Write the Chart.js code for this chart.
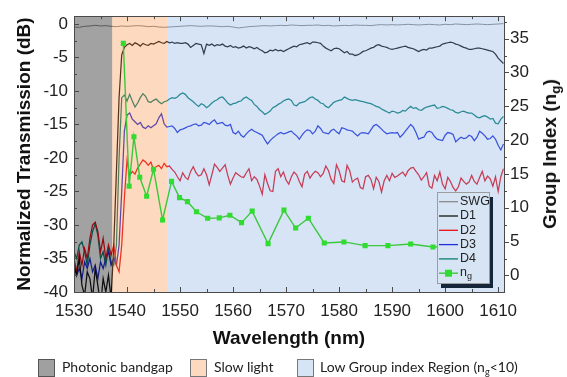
<!DOCTYPE html>
<html><head><meta charset="utf-8">
<script src="https://cdn.jsdelivr.net/npm/chart.js@4.4.1/dist/chart.umd.min.js"></script>
<style>
html,body{margin:0;padding:0;background:#fff;}
#wrap{position:relative;width:567px;height:377px;overflow:hidden;}
canvas{position:absolute;left:0;top:0;}
.rt{position:absolute;left:550px;top:154px;transform:translate(-50%,-50%) rotate(-90deg);font:bold 19px "Liberation Sans",Arial,sans-serif;white-space:nowrap;color:#111;}
.rt sub{font-size:0.72em;line-height:0;vertical-align:-0.3em;}
.lg{position:absolute;top:358px;font:14px Lato,"Open Sans",sans-serif;color:#222;white-space:nowrap;line-height:17px;}
.lg sub{font-size:0.65em;line-height:0;vertical-align:-0.3em;}
.bx{position:absolute;top:359px;width:17px;height:18px;border:1px solid #555;box-sizing:border-box;}
</style></head><body>
<div id="wrap">
<canvas id="c" width="567" height="377"></canvas>
<div class="rt">Group Index (n<sub>g</sub>)</div>
<div class="bx" style="left:38px;background:#a0a0a0;"></div>
<div class="lg" style="left:62px;">Photonic bandgap</div>
<div class="bx" style="left:190px;background:#fcd9bf;border-color:#777;"></div>
<div class="lg" style="left:214px;">Slow light</div>
<div class="bx" style="left:297px;background:#d6e4f5;border-color:#777;"></div>
<div class="lg" style="left:320px;">Low Group index Region (n<sub>g</sub>&lt;10)</div>
</div>
<script>
// ---- data ----
const wlFine = [
1530,1530.5,1531,1531.5,1532,1532.5,1533,1533.5,1534,1534.5,
1535,1535.5,1536,1536.5,1537,1537.5,1538,1538.5,1539,1539.5,
1540,1540.5,1541,1541.5,1542,1542.5,1543,1543.5,1544,1544.5,
1545,1545.5,1546,1546.5,1547,1547.5,1548,1548.5,1549,1549.5,
1550,1550.5,1551,1551.5,1552,1552.5,1553,1553.5,1554,1554.5,
1555,1555.5,1556,1556.5,1557,1557.5,1558,1558.5,1559,1559.5,
1560,1560.5,1561,1561.5,1562,1562.5,1563,1563.5,1564,1564.5,
1565,1565.5,1566,1566.5,1567,1567.5,1568,1568.5,1569,1569.5,
1570,1570.5,1571,1571.5,1572,1572.5,1573,1573.5,1574,1574.5,
1575,1575.5,1576,1576.5,1577,1577.5,1578,1578.5,1579,1579.5,
1580,1580.5,1581,1581.5,1582,1582.5,1583,1583.5,1584,1584.5,
1585,1585.5,1586,1586.5,1587,1587.5,1588,1588.5,1589,1589.5,
1590,1590.5,1591,1591.5,1592,1592.5,1593,1593.5,1594,1594.5,
1595,1595.5,1596,1596.5,1597,1597.5,1598,1598.5,1599,1599.5,
1600,1600.5,1601,1601.5,1602,1602.5,1603,1603.5,1604,1604.5,
1605,1605.5,1606,1606.5,1607,1607.5,1608,1608.5,1609,1609.5,
1610,1610.5,1611];

const wlCoarse = [
1530,1531,1532,1533,1534,1535,1536,1537,1538,1539,
1540,1541,1542,1543,1544,1545,1546,1547,1548,1549,
1550,1551,1552,1553,1554,1555,1556,1557,1558,1559,
1560,1561,1562,1563,1564,1565,1566,1567,1568,1569,
1570,1571,1572,1573,1574,1575,1576,1577,1578,1579,
1580,1581,1582,1583,1584,1585,1586,1587,1588,1589,
1590,1591,1592,1593,1594,1595,1596,1597,1598,1599,
1600,1601,1602,1603,1604,1605,1606,1607,1608,1609,
1610,1611];

const swg = [
-0.45,-0.5,-0.35,-0.3,-0.2,-0.3,-0.25,-0.35,-0.4,-0.3,
-0.35,-0.3,-0.25,-0.3,-0.4,-0.35,-0.45,-0.5,-0.45,-0.4,
-0.35,-0.3,-0.25,-0.3,-0.35,-0.3,-0.3,-0.35,-0.4,-0.35,
-0.45,-0.6,-0.5,-0.4,-0.35,-0.3,-0.25,-0.3,-0.25,-0.2,
-0.25,-0.15,-0.2,-0.25,-0.2,-0.2,-0.15,-0.25,-0.2,-0.3,
-0.25,-0.2,-0.25,-0.15,-0.2,-0.2,-0.25,-0.15,-0.1,-0.15,
-0.1,-0.15,-0.1,-0.05,-0.1,-0.15,-0.1,-0.05,-0.1,-0.15,
-0.05,-0.1,0.0,-0.05,-0.1,-0.05,0.0,-0.05,-0.1,-0.05,
0.0,0.05];

const d1 = [
-36,-37.5,-35,-39,-40.5,-37,-38,-41,-36.5,-39,
-42,-38,-40,-37.5,-41,-33,-22,-11,-4.6,-3.5,
-3.1,-2.9,-3.2,-2.8,-3.0,-3.3,-2.9,-3.1,-3.2,-2.9,
-3.0,-2.8,-2.6,-2.8,-2.9,-2.6,-2.8,-2.7,-2.9,-2.8,
-2.9,-2.9,-2.8,-3.0,-3.5,-3.2,-2.9,-3.0,-3.1,-4.4,
-3.0,-3.2,-3.0,-3.3,-3.1,-3.2,-3.0,-3.3,-3.4,-3.2,
-3.5,-3.4,-3.6,-3.5,-3.3,-3.6,-3.4,-3.5,-3.7,-3.5,
-3.8,-4.0,-4.3,-4.2,-3.9,-4.0,-3.8,-4.0,-3.9,-4.1,
-3.9,-3.7,-3.5,-3.3,-3.4,-3.1,-3.0,-2.9,-2.8,-3.0,
-2.7,-2.7,-2.8,-2.9,-3.3,-3.6,-3.8,-4.0,-3.7,-3.6,
-3.7,-4.0,-4.3,-4.1,-4.5,-4.5,-4.7,-4.6,-4.4,-4.1,
-4.0,-3.8,-3.6,-3.5,-3.2,-3.1,-3.3,-3.4,-3.5,-3.7,
-3.8,-3.7,-3.6,-3.5,-3.4,-3.3,-3.5,-3.6,-3.7,-3.9,
-4.1,-3.9,-3.8,-3.9,-3.6,-3.6,-3.5,-3.4,-3.3,-3.0,
-2.9,-2.8,-2.7,-2.8,-3.0,-3.1,-3.3,-3.5,-3.6,-3.8,
-3.8,-3.7,-3.6,-3.6,-3.7,-3.8,-3.9,-4.0,-4.1,-4.5,
-5.1,-5.5,-5.9];

const d2 = [
-35,-37,-34,-36,-33.5,-35,-32,-30,-29.6,-31,
-34,-32,-35,-33,-34.5,-33,-36,-37,-33,-26,
-20.3,-22.6,-22.0,-22.4,-21.5,-20.9,-20.3,-20.6,-21.1,-20.6,
-21.8,-21.3,-21.1,-21.6,-20.8,-21.3,-21.2,-21.7,-22.1,-22.8,
-23.4,-22.2,-22.9,-23.2,-22.0,-21.3,-22.2,-22.7,-22.5,-21.6,
-22.5,-24.0,-22.5,-20.9,-21.4,-22.0,-21.5,-21.0,-22.6,-23.9,
-23.0,-22.2,-22.5,-22.8,-22.9,-22.2,-21.6,-23.4,-22.8,-23.2,
-24.2,-25.4,-22.5,-23.8,-24.9,-25.0,-22.0,-21.6,-22.8,-22.1,
-23.3,-23.9,-22.8,-22.1,-22.5,-23.5,-24.3,-22.4,-22.0,-23.0,
-22.4,-22.0,-22.2,-22.8,-22.3,-21.2,-21.9,-23.2,-23.8,-21.0,
-21.9,-23.4,-23.6,-21.1,-21.9,-23.6,-23.2,-23.0,-24.4,-24.6,
-22.8,-22.6,-23.2,-24.6,-22.9,-23.5,-25.1,-23.4,-22.6,-23.4,
-22.3,-22.9,-22.7,-22.4,-22.1,-22.7,-21.9,-21.5,-21.4,-22.0,
-22.5,-23.3,-22.8,-22.2,-24.2,-24.5,-22.6,-23.4,-22.1,-23.9,
-24.6,-22.9,-23.5,-24.4,-24.9,-24.3,-23.0,-23.5,-23.9,-23.6,
-22.6,-23.5,-23.9,-22.9,-22.0,-23.4,-22.7,-23.1,-24.2,-22.8,
-25.0,-22.8,-21.6];

const d3 = [
-36,-37.5,-36.5,-38,-35.5,-36.5,-35,-37,-36,-38,
-35.5,-36.5,-35,-34,-36,-35,-36,-33,-25,-16,
-13.6,-13.3,-14.2,-14.6,-15.0,-14.7,-15.4,-15.6,-15.2,-15.5,
-15.2,-14.9,-14.0,-13.4,-14.9,-15.4,-15.3,-15.2,-15.6,-16.2,
-15.8,-15.7,-15.5,-15.3,-15.2,-15.0,-14.9,-15.2,-15.1,-14.7,
-14.8,-15.0,-14.6,-14.3,-14.9,-14.8,-14.7,-15.1,-15.2,-15.0,
-16.2,-16.4,-16.0,-16.6,-16.9,-16.4,-16.0,-15.7,-16.0,-16.2,
-16.4,-16.6,-17.3,-17.9,-17.4,-17.0,-16.7,-16.4,-16.2,-16.4,
-16.3,-16.1,-16.0,-16.4,-16.7,-17.2,-16.6,-16.1,-15.8,-15.9,
-16.4,-16.0,-15.2,-15.6,-16.2,-16.3,-16.4,-15.9,-15.7,-16.1,
-16.4,-15.5,-15.6,-15.8,-15.9,-16.0,-16.4,-16.7,-16.3,-16.2,
-16.3,-16.4,-15.8,-15.2,-15.0,-15.3,-15.7,-16.1,-16.4,-16.3,
-16.2,-16.3,-16.2,-16.9,-16.5,-16.0,-15.5,-15.0,-15.4,-16.2,
-17.2,-17.0,-16.9,-16.2,-16.0,-16.2,-16.8,-17.2,-17.3,-17.4,
-16.6,-16.2,-16.3,-16.5,-17.6,-17.2,-16.9,-17.1,-17.0,-16.6,
-16.8,-17.4,-16.9,-16.0,-16.3,-16.7,-17.2,-17.1,-16.7,-17.2,
-18.1,-18.8,-17.9];

const d4 = [
-34,-35,-33,-32.5,-34,-36,-33,-31,-29.8,-31.5,
-35,-34,-36,-33.5,-35.5,-36,-33,-20,-11,-10.6,
-11.5,-10.5,-11.5,-12.4,-11.8,-11.0,-10.4,-10.8,-11.6,-11.7,
-11.4,-11.2,-11.6,-11.9,-11.6,-11.5,-11.2,-11.0,-11.1,-10.9,
-10.5,-10.3,-10.5,-11.0,-11.3,-11.6,-12.0,-12.3,-11.9,-12.1,
-12.5,-12.2,-11.8,-11.5,-11.3,-11.0,-10.9,-11.3,-11.8,-12.1,
-11.9,-11.8,-11.6,-11.5,-11.1,-10.9,-11.2,-11.4,-12.0,-12.3,
-12.8,-13.1,-13.5,-13.3,-13.0,-12.5,-12.3,-12.0,-11.8,-11.5,
-11.3,-11.2,-11.4,-12.1,-12.2,-11.8,-11.7,-11.6,-11.3,-11.0,
-10.9,-11.2,-11.4,-11.8,-11.9,-12.3,-12.5,-12.1,-11.7,-11.5,
-11.4,-11.3,-10.9,-11.1,-11.3,-11.4,-11.3,-11.4,-11.5,-11.6,
-11.7,-11.8,-11.9,-12.1,-12.3,-12.4,-12.7,-12.9,-13.1,-13.3,
-13.0,-13.1,-13.3,-13.2,-12.9,-13.0,-12.6,-12.3,-12.6,-12.5,
-12.8,-12.9,-12.6,-12.4,-12.3,-12.2,-12.1,-12.6,-12.5,-12.3,
-12.4,-12.6,-12.8,-12.9,-13.2,-13.3,-13.1,-13.0,-13.2,-13.3,
-13.3,-13.6,-13.9,-14.0,-13.8,-13.7,-13.9,-14.2,-14.1,-14.8,
-14.9,-14.2,-13.8];

const ngWl = [1539.3,1540.4,1541.3,1542.4,1543.7,1545.0,1546.7,1548.4,1549.9,1551.4,1553.1,1555.2,1557.4,1559.4,1561.6,1563.6,1566.6,1569.6,1571.8,1574.2,1577.2,1580.9,1584.9,1589.2,1593.5,1597.7,1601.8];
const ngVal = [34.3,13.2,20.5,14.5,11.7,15.7,8.2,13.9,11.5,10.9,9.4,8.45,8.5,8.9,7.8,9.5,4.7,9.65,7.0,8.45,4.8,4.95,4.4,4.4,4.65,4.2,4.3];

// region boundaries (nm): photonic bandgap | slow light | low group index
const regionEdges = [1530, 1537.2, 1547.6, 1611.1];

const xTicks = [1530,1540,1550,1560,1570,1580,1590,1600,1610];
const yTicks = [0,-5,-10,-15,-20,-25,-30,-35,-40];
const y2Ticks = [0,5,10,15,20,25,30,35];

const legendNames = ['SWG','D1','D2','D3','D4','ng'];

// ---- chart ----
const pts = (xs, ys) => xs.map((x, i) => ({x: x, y: ys[i]}));
const FONT = '"Liberation Sans", Arial, sans-serif';

function lineDS(label, xs, ys, color, w) {
  return {label, data: pts(xs, ys), borderColor: color, borderWidth: w, pointRadius: 0,
    tension: 0, yAxisID: 'y', order: 1, clip: 0};
}

const datasets = [
  lineDS(legendNames[0], wlCoarse, swg, '#8a8a8a', 1),
  lineDS(legendNames[1], wlFine, d1, '#141414', 1.25),
  lineDS(legendNames[2], wlFine, d2, '#ea0f1a', 1.25),
  lineDS(legendNames[3], wlFine, d3, '#2030dc', 1.25),
  lineDS(legendNames[4], wlFine, d4, '#0a7f76', 1.25),
  {label: legendNames[5], data: pts(ngWl, ngVal), borderColor: '#3cc83c', borderWidth: 1.4,
   pointStyle: 'rect', pointRadius: 3.6, pointBackgroundColor: '#30dc30', pointBorderWidth: 0,
   tension: 0, yAxisID: 'y2', order: 0, isNg: true}
];

const deco = {
  id: 'deco',
  beforeDraw(chart) {
    const c = chart.ctx; c.save(); c.fillStyle = '#fff'; c.fillRect(0, 0, chart.width, chart.height); c.restore();
  },
  beforeDatasetDraw(chart, args) {
    if (!chart.data.datasets[args.index].isNg) return;
    const {ctx, chartArea: a, scales: {x}} = chart;
    const px = regionEdges.map(v => x.getPixelForValue(v));
    ctx.save();
    ctx.beginPath(); ctx.rect(a.left, a.top, a.right - a.left, a.bottom - a.top); ctx.clip();
    ctx.globalCompositeOperation = 'multiply';
    ctx.fillStyle = '#a2a2a2';
    ctx.fillRect(px[0], a.top, px[1] - px[0], a.bottom - a.top);
    ctx.globalCompositeOperation = 'source-over';
    ctx.fillStyle = 'rgba(245,128,42,0.30)';
    ctx.fillRect(px[1], a.top, px[2] - px[1], a.bottom - a.top);
    ctx.fillStyle = 'rgba(118,165,222,0.30)';
    ctx.fillRect(px[2], a.top, px[3] - px[2], a.bottom - a.top);
    ctx.restore();
  },
  afterDraw(chart) {
    const {ctx, chartArea: a, scales: {x, y, y2}} = chart;
    ctx.save();
    ctx.strokeStyle = '#4a4a4a'; ctx.lineWidth = 1;
    const mids = (arr) => { const s = arr.slice().sort((p, q) => p - q); const m = []; for (let i = 0; i < s.length - 1; i++) m.push((s[i] + s[i + 1]) / 2); return m; };
    ctx.beginPath();
    const xs = x.ticks.map(t => t.value);
    xs.forEach(v => { const p = Math.round(x.getPixelForValue(v)) + 0.5; ctx.moveTo(p, a.bottom); ctx.lineTo(p, a.bottom - 5); ctx.moveTo(p, a.top); ctx.lineTo(p, a.top + 5); });
    mids(xs).forEach(v => { const p = Math.round(x.getPixelForValue(v)) + 0.5; ctx.moveTo(p, a.bottom); ctx.lineTo(p, a.bottom - 3); ctx.moveTo(p, a.top); ctx.lineTo(p, a.top + 3); });
    const ys = y.ticks.map(t => t.value);
    ys.forEach(v => { const p = Math.round(y.getPixelForValue(v)) + 0.5; ctx.moveTo(a.left, p); ctx.lineTo(a.left + 5, p); });
    mids(ys).forEach(v => { const p = Math.round(y.getPixelForValue(v)) + 0.5; ctx.moveTo(a.left, p); ctx.lineTo(a.left + 3, p); });
    const y2s = y2.ticks.map(t => t.value);
    y2s.forEach(v => { const p = Math.round(y2.getPixelForValue(v)) + 0.5; ctx.moveTo(a.right, p); ctx.lineTo(a.right + 5, p); });
    const m2 = mids(y2s); m2.push(y2s[y2s.length - 1] + (y2s[1] - y2s[0]) / 2);
    m2.forEach(v => { if (v > y2.max) return; const p = Math.round(y2.getPixelForValue(v)) + 0.5; ctx.moveTo(a.right, p); ctx.lineTo(a.right + 3, p); });
    ctx.stroke();
    ctx.strokeRect(Math.round(a.left) + 0.5, Math.round(a.top) + 0.5, Math.round(a.right - a.left), Math.round(a.bottom - a.top));

    // inner legend
    const bw = 52, bh = 91;
    const bx = a.right - 15 - bw, by = a.bottom - 9 - bh;
    ctx.fillStyle = '#15263b';
    ctx.fillRect(bx + 4, by + 5, bw, bh);
    ctx.fillStyle = '#d7e4f4';
    ctx.fillRect(bx, by, bw, bh);
    ctx.strokeStyle = '#9c9c9c';
    ctx.strokeRect(bx + 0.5, by + 0.5, bw, bh);
    ctx.font = '12.5px ' + FONT; ctx.textBaseline = 'middle'; ctx.textAlign = 'left';
    chart.data.datasets.forEach((ds, i) => {
      const cy = by + 9.7 + i * 14.3;
      ctx.strokeStyle = ds.borderColor; ctx.lineWidth = ds.isNg ? 1.4 : 1.3;
      ctx.beginPath(); ctx.moveTo(bx + 2, cy); ctx.lineTo(bx + 21, cy); ctx.stroke();
      if (ds.isNg) { ctx.fillStyle = ds.pointBackgroundColor; ctx.fillRect(bx + 8, cy - 3.5, 7, 7); }
      ctx.fillStyle = '#222';
      if (ds.isNg) {
        ctx.fillText('n', bx + 23, cy - 1);
        const w = ctx.measureText('n').width;
        ctx.font = '9px ' + FONT; ctx.fillText('g', bx + 23 + w, cy + 3);
        ctx.font = '12.5px ' + FONT;
      } else {
        ctx.fillText(ds.label, bx + 23, cy);
      }
    });
    ctx.restore();
  }
};

new Chart(document.getElementById('c'), {
  type: 'line',
  data: {datasets},
  options: {
    responsive: false, animation: false, devicePixelRatio: 1,
    layout: {padding: {top: 9, left: 0, right: 0, bottom: 0}},
    plugins: {legend: {display: false}, tooltip: {enabled: false}},
    scales: {
      x: {
        type: 'linear', min: 1530, max: 1611.1,
        afterBuildTicks: s => { s.ticks = xTicks.map(v => ({value: v})); },
        ticks: {callback: v => String(v), font: {family: FONT, size: 17}, color: '#222', padding: 9, maxRotation: 0, autoSkip: false},
        grid: {display: false, drawTicks: false}, border: {display: false},
        title: {display: true, text: 'Wavelength (nm)', font: {family: FONT, size: 19, weight: 'bold'}, color: '#111', padding: {top: 0, bottom: 27}},
        afterFit: s => { s.height = 85; }
      },
      y: {
        type: 'linear', position: 'left', min: -40, max: 1.16,
        afterBuildTicks: s => { s.ticks = yTicks.map(v => ({value: v})); },
        ticks: {callback: v => String(v), font: {family: FONT, size: 17}, color: '#222', padding: 6, autoSkip: false},
        grid: {display: false, drawTicks: false}, border: {display: false},
        title: {display: true, text: 'Normalized Transmission (dB)', font: {family: FONT, size: 19, weight: 'bold'}, color: '#111', padding: {top: 13, bottom: 0}},
        afterFit: s => { s.width = 74; }
      },
      y2: {
        type: 'linear', position: 'right', min: -2.45, max: 38.31,
        afterBuildTicks: s => { s.ticks = y2Ticks.map(v => ({value: v})); },
        ticks: {callback: v => String(v), font: {family: FONT, size: 17}, color: '#222', padding: 6, autoSkip: false},
        grid: {display: false, drawTicks: false}, border: {display: false},
        afterFit: s => { s.width = 63; }
      }
    }
  },
  plugins: [deco]
});
</script>
</body></html>
